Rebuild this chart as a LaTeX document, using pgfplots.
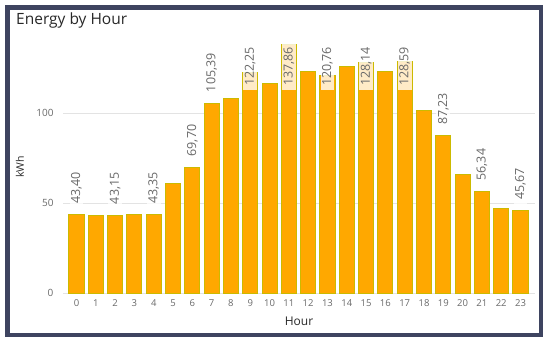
\documentclass[border=0pt]{standalone}
\usepackage{pgfplots}
\pgfplotsset{compat=1.18}
\usepackage{fontspec}
\setmainfont{Open Sans}
\definecolor{barorange}{RGB}{255,168,0}
\definecolor{barolive}{RGB}{204,186,0}
\definecolor{framecol}{RGB}{62,68,96}
\definecolor{txtgray}{RGB}{105,105,105}
\definecolor{titlecol}{RGB}{40,40,40}

\pgfplotstableread{
h val
0 43.40
1 43.20
2 43.15
3 43.50
4 43.35
5 61.00
6 69.70
7 105.39
8 108.00
9 122.25
10 116.50
11 137.86
12 123.00
13 120.76
14 126.00
15 128.14
16 123.00
17 128.59
18 101.50
19 87.23
20 66.00
21 56.34
22 46.70
23 45.67
}\allbars

% ly = vertical position of the label box (layout only); val = value shown
\pgfplotstableread{
h val ly
0 43.40 47.3
2 43.15 47.1
4 43.35 47.3
6 69.70 73.6
7 105.39 109.3
9 122.25 112.8
11 137.86 112.8
13 120.76 112.8
15 128.14 112.8
17 128.59 112.8
19 87.23 91.1
21 56.34 60.2
23 45.67 49.6
}\labeled

\begin{document}
\begin{tikzpicture}[x=1pt,y=1pt]
\path[use as bounding box] (0,0) rectangle (550,-343);
\draw[framecol, line width=4.5pt] (7.25,-7.25) rectangle (540.75,-334.75);
\node[anchor=west, font=\fontsize{15.5}{18}\selectfont, text=titlecol, inner sep=0pt] at (16,-20) {Energy by Hour};
\begin{axis}[
  at={(63pt,-293pt)}, anchor=south west,
  scale only axis, width=472pt, height=252pt,
  xmin=-0.7, xmax=23.75, ymin=0, ymax=140,
  axis line style={draw=none}, tick style={draw=none}, major tick length=0pt,
  ybar, bar width=0.78, bar shift=0pt,
  xtick={0,...,23}, ytick={0,50,100},
  ymajorgrids, grid style={gray!22, line width=0.6pt},
  /pgf/number format/assume math mode=true,
  ticklabel style={text=txtgray},
  x tick label style={font=\fontsize{9.5}{11}\selectfont, yshift=-3pt},
  y tick label style={font=\fontsize{10}{12}\selectfont, xshift=-6pt},
  xlabel={Hour}, ylabel={kWh},
  xlabel style={at={([yshift=-28pt]rel axis cs:0.5,0)}, anchor=center, font=\fontsize{12}{14}\selectfont, text=titlecol},
  ylabel style={at={([xshift=-43pt]rel axis cs:0,0.5)}, anchor=center, font=\fontsize{10.5}{12}\selectfont, text=titlecol},
  clip=false,
]
\addplot[fill=barorange, draw=barolive, line width=1pt] table[x=h, y=val] {\allbars};
\addplot[fill=none, draw=none,
  point meta=explicit,
  nodes near coords,
  nodes near coords style={rotate=90, anchor=west, font=\fontsize{12.5}{14}\selectfont, text=txtgray,
    fill=white, fill opacity=0.78, text opacity=1, inner xsep=4pt, inner ysep=1.5pt},
  /pgf/number format/fixed, /pgf/number format/fixed zerofill,
  /pgf/number format/precision=2, /pgf/number format/use comma,
] table[x=h, y=ly, meta=val] {\labeled};
\end{axis}
\end{tikzpicture}
\end{document}
